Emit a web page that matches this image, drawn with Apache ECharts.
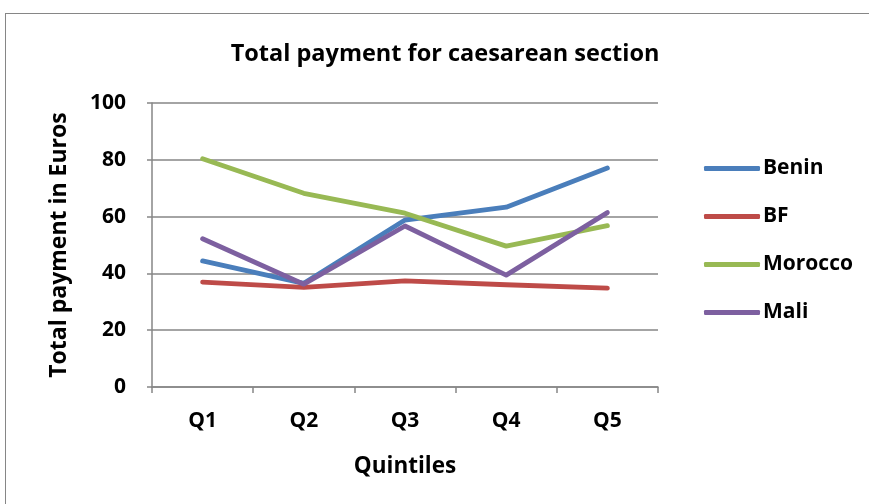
<!DOCTYPE html>
<html>
<head>
<meta charset="utf-8">
<script src="https://cdn.jsdelivr.net/npm/echarts@6/dist/echarts.min.js"></script>
<style>
  html, body { margin: 0; padding: 0; background: #fff; }
  #frame { position: absolute; left: 5px; top: 13px; width: 880px; height: 520px; border: 1.5px solid #868686; box-sizing: border-box; }
  #chart { position: absolute; left: 0; top: 0; width: 869px; height: 504px; }
</style>
</head>
<body>
<div id="frame"></div>
<div id="chart"></div>
<script>
// Quintile categories and total caesarean payment (Euros) per country
const quintiles = ['Q1', 'Q2', 'Q3', 'Q4', 'Q5'];
const benin   = [44.4, 36.5, 58.8, 63.3, 77.1];
const bf      = [36.9, 35.1, 37.4, 36.0, 34.8];
const morocco = [80.4, 68.2, 61.2, 49.6, 56.8];
const mali    = [52.2, 36.2, 56.7, 39.4, 61.4];
const yTicks  = [0, 20, 40, 60, 80, 100];

const FONT = '"Open Sans"';
const axisGrey = '#868686';

function lineSeries(name, data, color) {
  return {
    name: name,
    type: 'line',
    data: data,
    symbol: 'none',
    lineStyle: { width: 4.8, color: color, cap: 'round', join: 'round' },
    itemStyle: { color: color }
  };
}

const chart = echarts.init(document.getElementById('chart'), null, { renderer: 'canvas' });
chart.setOption({
  animation: false,
  backgroundColor: 'transparent',
  title: {
    text: 'Total payment for caesarean section',
    left: 440, top: 37, textAlign: 'center',
    textStyle: { fontFamily: FONT, fontWeight: 'bold', fontSize: 23.5, color: '#000' }
  },
  legend: {
    orient: 'vertical',
    left: 699, top: 153,
    itemWidth: 56, itemHeight: 5, itemGap: 27,
    icon: 'roundRect',
    textStyle: { fontFamily: FONT, fontWeight: 'bold', fontSize: 21, color: '#000', padding: [0, 0, 0, -2] },
    data: ['Benin', 'BF', 'Morocco', 'Mali']
  },
  grid: { left: 152, right: 211, top: 103, bottom: 117 },
  xAxis: {
    type: 'category',
    data: quintiles,
    boundaryGap: true,
    name: 'Quintiles',
    nameLocation: 'middle',
    nameGap: 68,
    nameTextStyle: { fontFamily: FONT, fontWeight: 'bold', fontSize: 22.5, color: '#000' },
    axisLine: { lineStyle: { color: axisGrey, width: 1.5 } },
    axisTick: { show: true, length: 6, alignWithLabel: false, lineStyle: { color: axisGrey, width: 1.5 } },
    axisLabel: { fontFamily: FONT, fontWeight: 'bold', fontSize: 21, color: '#000', margin: 24 }
  },
  yAxis: {
    type: 'value',
    min: yTicks[0], max: yTicks[yTicks.length - 1], interval: 20,
    name: 'Total payment in Euros',
    nameLocation: 'middle',
    nameGap: 81,
    nameTextStyle: { fontFamily: FONT, fontWeight: 'bold', fontSize: 23, color: '#000' },
    axisLine: { show: true, lineStyle: { color: axisGrey, width: 1.5 } },
    axisTick: { show: true, length: 5, lineStyle: { color: axisGrey, width: 1.5 } },
    axisLabel: { fontFamily: FONT, fontWeight: 'bold', fontSize: 21, color: '#000', margin: 26 },
    splitLine: { lineStyle: { color: axisGrey, width: 1.5 } }
  },
  series: [
    lineSeries('Benin', benin, '#4A7EBB'),
    lineSeries('BF', bf, '#BE4B48'),
    lineSeries('Morocco', morocco, '#98B954'),
    lineSeries('Mali', mali, '#7D60A0')
  ]
});
</script>
</body>
</html>
